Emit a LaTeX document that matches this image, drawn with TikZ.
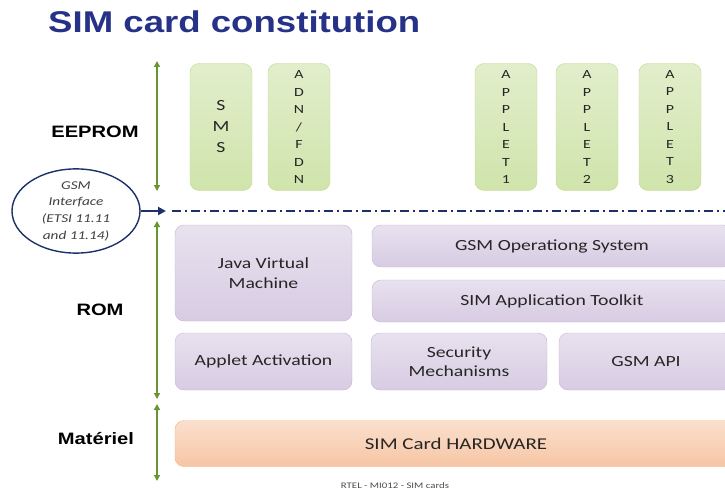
\documentclass[tikz,border=0pt]{standalone}
\usepackage{fontspec}
\setmainfont{Carlito}[FakeStretch=1.27]
\newfontfamily\headfont{Liberation Sans}[FakeStretch=1.22]
\usepackage{xcolor}
\definecolor{navy}{RGB}{30,48,105}
\definecolor{titleblue}{RGB}{38,50,135}
\definecolor{layergreen}{RGB}{105,150,50}
\definecolor{eeprom}{RGB}{150,195,70}
\definecolor{rom}{RGB}{150,120,180}
\definecolor{hw}{RGB}{240,150,90}
\usetikzlibrary{arrows.meta,positioning,shapes.geometric}
\tikzset{
  eebox/.style={draw=eeprom!60,rounded corners=9pt,top color=eeprom!28,bottom color=eeprom!45,%
    minimum width=62pt,minimum height=127pt,inner sep=0pt,align=center,%
    font=\fontsize{12.5}{17.5}\selectfont,text=black!85},
  rombox/.style={draw=rom!55,rounded corners=9pt,top color=rom!22,bottom color=rom!38,%
    inner sep=0pt,align=center,font=\fontsize{15.5}{19.5}\selectfont,text=black!85},
  hwbox/.style={draw=hw!70,rounded corners=9pt,top color=hw!30,bottom color=hw!55,%
    inner sep=0pt,align=center,font=\fontsize{16.5}{19}\selectfont,text=black!85},
  layer/.style={{Triangle[length=6pt,width=6pt]}-{Triangle[length=6pt,width=6pt]},%
    line width=2.2pt,draw=layergreen},
  lbl/.style={font=\headfont\bfseries\fontsize{16.5}{18}\selectfont,text=black,inner sep=0pt},
  ifarrow/.style={-{Triangle[length=8pt,width=8pt]},line width=2.6pt,draw=navy},
}

\begin{document}
\begin{tikzpicture}[x=1pt,y=-1pt]
\clip (0,0) rectangle (725,492);
\node[anchor=base west,inner sep=0pt,font=\headfont\bfseries\fontsize{30}{34}\selectfont,text=titleblue]
  (title) at (48,33) {SIM card constitution};
% EEPROM
\node[eebox,font=\fontsize{15.5}{21}\selectfont] (sms) at (221,127) {S\\M\\S};
\node[eebox] (adn) at (299,127) {A\\D\\N\\/\\F\\D\\N};
\node[eebox] (app1) at (506,127) {A\\P\\P\\L\\E\\T\\1};
\node[eebox] (app2) at (587,127) {A\\P\\P\\L\\E\\T\\2};
\node[eebox] (app3) at (670,127) {A\\P\\P\\L\\E\\T\\3};
% ROM
\node[rombox,minimum width=177pt,minimum height=96pt] (jvm) at (263.5,273) {Java Virtual\\Machine};
\node[rombox,minimum width=360pt,minimum height=42pt] (gsmos) at (552,246) {GSM Operationg System};
\node[rombox,minimum width=360pt,minimum height=42pt] (stk) at (552,301) {SIM Application Toolkit};
\node[rombox,minimum width=177pt,minimum height=57pt] (act) at (263.5,361.5) {Applet Activation};
\node[rombox,minimum width=176pt,minimum height=57pt] (sec) at (459,361.5) {Security\\Mechanisms};
\node[rombox,minimum width=174pt,minimum height=57pt] (api) at (646,361.5) {GSM API};
% hardware
\node[hwbox,minimum width=562pt,minimum height=46pt] (hw) at (456,443.5) {SIM Card HARDWARE};
% layers
\node[lbl,anchor=base] (eelbl) at (95,137) {EEPROM};
\node[lbl,anchor=base] (romlbl) at (100,315) {ROM};
\node[lbl,anchor=base] (hwlbl) at (96,444) {Matériel};
\coordinate (eeTop) at (157,61);
\coordinate (eeBot) at (157,191);
\coordinate (romTop) at (157,221);
\coordinate (romBot) at (157,399);
\coordinate (hwTop) at (157,404);
\coordinate (hwBot) at (157,481);
\draw[layer] (eeTop) -- (eeBot);
\draw[layer] (romTop) -- (romBot);
\draw[layer] (hwTop) -- (hwBot);
% interface
\node[ellipse,draw=navy,line width=1.4pt,fill=white,minimum width=128pt,minimum height=78pt,
  inner sep=0pt,align=center,font=\itshape\fontsize{12}{16.7}\selectfont,text=black!75]
  (gsmif) at (76,211) {GSM\\Interface\\(ETSI 11.11\\and 11.14)};
\coordinate (ifEnd) at (166,211);
\coordinate (sepL) at (172,211);
\coordinate (sepR) at (725,211);
\draw[ifarrow] (gsmif.east) -- (ifEnd);
\draw[navy,line width=1.5pt,dash pattern=on 9pt off 4pt on 2pt off 4pt] (sepL) -- (sepR);
\node[font=\fontsize{8.5}{10}\selectfont,text=black!70] (foot) at (395,486) {RTEL - MI012 - SIM cards};
\end{tikzpicture}
\end{document}
